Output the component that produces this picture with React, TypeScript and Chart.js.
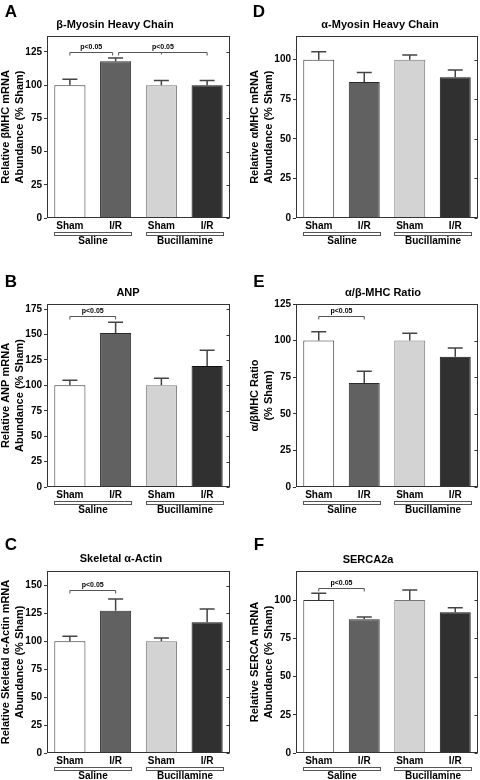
import React, { useEffect, useRef } from 'react';
import { Chart, registerables } from 'chart.js';
Chart.register(...registerables);

// ---------- data ----------
const categories = ['Sham', 'I/R', 'Sham', 'I/R'];
const groupNames = ['Saline', 'Bucillamine'];
const barColors = ['#ffffff', '#616161', '#d3d3d3', '#303030'];
const barBorders = ['#333333', '#2a2a2a', '#777777', '#111111'];
const yTickValues = [0, 25, 50, 75, 100, 125, 150, 175];

const bmhcMean = [100, 118, 100, 100];
const bmhcErr = [4.5, 2.5, 3.5, 3.5];
const amhcMean = [100, 86, 100, 89];
const amhcErr = [5, 6, 3, 4.5];
const anpMean = [100, 151.5, 100, 119];
const anpErr = [5, 10.5, 7, 15.5];
const ratioMean = [100, 71, 100, 89];
const ratioErr = [6, 8, 5, 6];
const actinMean = [100, 127.5, 100, 117];
const actinErr = [4.5, 10.5, 3, 12];
const sercaMean = [100, 87.5, 100, 92];
const sercaErr = [4.5, 1.5, 6.5, 3];

const pLabel = 'p<0.05';

const FONT = 'Arial, "Liberation Sans", Helvetica, sans-serif';

type Bracket = { a: number; b: number; v: number; da?: number; db?: number; mid?: number };

type PanelProps = {
  left: number; top: number; w: number; h: number;
  areaLeft: number; areaRight: number; areaTop: number; areaBottom: number;
  letter: string; letterX: number; letterY: number;
  title: string; titleX: number; titleY: number;
  yTitle: string[];
  yMax: number;
  mean: number[]; err: number[];
  brackets: Bracket[];
};

function Panel(p: PanelProps) {
  const ref = useRef<HTMLCanvasElement>(null);
  useEffect(() => {
    const canvas = ref.current!;
    const yAxisW = 30;
    const xAxisH = 14;
    const decor = {
      id: 'decor',
      afterDraw(chart: any) {
        const ctx = chart.ctx as CanvasRenderingContext2D;
        const a = chart.chartArea;
        const ys = chart.scales.y;
        const meta = chart.getDatasetMeta(0);
        ctx.save();
        // box
        ctx.strokeStyle = '#333';
        ctx.lineWidth = 1;
        const L = Math.round(a.left) + 0.5, T = Math.round(a.top) + 0.5;
        const R = Math.round(a.right) - 0.5, B = Math.round(a.bottom) - 0.5;
        ctx.strokeRect(L, T, R - L, B - T);
        // right inner ticks
        ys.ticks.forEach((t: any) => {
          const yy = Math.round(ys.getPixelForValue(t.value)) + 0.5;
          ctx.beginPath();
          ctx.moveTo(R - 3, yy);
          ctx.lineTo(R, yy);
          ctx.stroke();
        });
        // error bars
        ctx.strokeStyle = '#444';
        ctx.lineWidth = 1.5;
        p.mean.forEach((m, i) => {
          const bar = meta.data[i];
          const cx = bar.x;
          const y0 = ys.getPixelForValue(m);
          const y1 = ys.getPixelForValue(m + p.err[i]);
          ctx.beginPath();
          ctx.moveTo(cx, y0);
          ctx.lineTo(cx, y1);
          ctx.moveTo(cx - 7.5, y1);
          ctx.lineTo(cx + 7.5, y1);
          ctx.stroke();
        });
        // significance brackets
        ctx.strokeStyle = '#555';
        ctx.lineWidth = 1;
        ctx.fillStyle = '#000';
        ctx.font = `bold 7px ${FONT}`;
        ctx.textAlign = 'center';
        ctx.textBaseline = 'bottom';
        p.brackets.forEach((br) => {
          const x1 = meta.data[br.a].x + (br.da || 0);
          const x2 = meta.data[br.b].x + (br.db || 0);
          const yy = Math.round(ys.getPixelForValue(br.v)) + 0.5;
          ctx.beginPath();
          ctx.moveTo(x1, yy + 3);
          ctx.lineTo(x1, yy);
          ctx.lineTo(x2, yy);
          ctx.lineTo(x2, yy + 3);
          if (br.mid !== undefined) {
            const xm = meta.data[br.mid].x;
            ctx.moveTo(xm, yy);
            ctx.lineTo(xm, yy + 2);
          }
          ctx.stroke();
          ctx.fillText(pLabel, (x1 + x2) / 2, yy - 2);
        });
        // group brackets
        ctx.strokeStyle = '#555';
        ctx.font = `bold 10px ${FONT}`;
        ctx.textBaseline = 'middle';
        [[0, 1], [2, 3]].forEach((g, gi) => {
          const b0 = meta.data[g[0]], b1 = meta.data[g[1]];
          const xl = Math.round(b0.x - b0.width / 2) + 0.5;
          const xr = Math.round(b1.x + b1.width / 2) + 0.5;
          const yb = Math.round(a.bottom) + 14.5;
          ctx.strokeRect(xl, yb, xr - xl, 3);
          ctx.fillText(groupNames[gi], (xl + xr) / 2, a.bottom + 23);
        });
        // letter
        ctx.font = `bold 17px ${FONT}`;
        ctx.fillText(p.letter, p.letterX, p.letterY);
        // title
        ctx.font = `bold 11px ${FONT}`;
        ctx.fillText(p.title, p.titleX, p.titleY);
        // y title
        const cy = (a.top + a.bottom) / 2;
        const offs = p.yTitle.length === 2 ? [a.left - 41, a.left - 27] : [a.left - 27];
        p.yTitle.forEach((line, li) => {
          ctx.save();
          ctx.translate(offs[li], cy);
          ctx.rotate(-Math.PI / 2);
          ctx.fillText(line, 0, 0);
          ctx.restore();
        });
        ctx.restore();
      },
    };
    const chart = new Chart(canvas, {
      type: 'bar',
      data: {
        labels: categories,
        datasets: [{
          data: p.mean,
          backgroundColor: barColors,
          borderColor: barBorders,
          borderWidth: 1,
          barPercentage: 0.68,
          categoryPercentage: 1,
        }],
      },
      options: {
        responsive: false,
        animation: false,
        devicePixelRatio: 1,
        layout: {
          padding: {
            left: p.areaLeft - yAxisW,
            right: p.w - p.areaRight,
            top: p.areaTop,
            bottom: p.h - p.areaBottom - xAxisH,
          },
        },
        plugins: { legend: { display: false }, tooltip: { enabled: false }, title: { display: false } },
        scales: {
          x: {
            grid: { display: false, drawTicks: false },
            border: { display: false },
            ticks: { color: '#000', font: { family: FONT, size: 10, weight: 'bold' }, padding: 2, maxRotation: 0 },
            afterFit: (s: any) => { s.height = xAxisH; },
          },
          y: {
            min: 0,
            max: p.yMax,
            grid: { display: true, drawOnChartArea: false, drawTicks: true, tickLength: 3, color: '#333' },
            border: { display: false },
            ticks: { color: '#000', font: { family: FONT, size: 10, weight: 'bold' }, padding: 2, stepSize: 25 },
            afterBuildTicks: (s: any) => {
              s.ticks = yTickValues.filter((v) => v <= p.yMax).map((v) => ({ value: v }));
            },
            afterFit: (s: any) => { s.width = yAxisW; },
          },
        },
      } as any,
      plugins: [decor],
    });
    return () => chart.destroy();
  }, []);
  return (
    <canvas
      ref={ref}
      width={p.w}
      height={p.h}
      style={{ position: 'absolute', left: p.left, top: p.top, width: p.w, height: p.h }}
    />
  );
}

const AB = 'Abundance (% Sham)';

export default function App() {
  const lc = { left: 0, w: 240, areaLeft: 47, areaRight: 230 };
  const rc = { left: 240, w: 240, areaLeft: 56, areaRight: 238 };
  const r0 = { top: 0, h: 265, areaTop: 36, areaBottom: 218 };
  const r1 = { top: 265, h: 250, areaTop: 39, areaBottom: 222 };
  const r2 = { top: 515, h: 265, areaTop: 56, areaBottom: 238 };
  return (
    <div style={{ position: 'absolute', left: 0, top: 0, width: 480, height: 780, background: '#fff', overflow: 'hidden' }}>
      <Panel {...lc} {...r0} letter="A" letterX={11} letterY={12} title="β-Myosin Heavy Chain" titleX={115} titleY={25}
        yTitle={['Relative βMHC mRNA', AB]} yMax={137} mean={bmhcMean} err={bmhcErr}
        brackets={[{ a: 0, b: 1, v: 125, db: -3 }, { a: 1, b: 3, v: 125, da: 3, mid: 2 }]} />
      <Panel {...rc} {...r0} letter="D" letterX={19} letterY={12} title="α-Myosin Heavy Chain" titleX={140} titleY={25}
        yTitle={['Relative αMHC mRNA', AB]} yMax={115} mean={amhcMean} err={amhcErr} brackets={[]} />
      <Panel {...lc} {...r1} letter="B" letterX={11} letterY={17} title="ANP" titleX={128} titleY={28}
        yTitle={['Relative ANP mRNA', AB]} yMax={180} mean={anpMean} err={anpErr}
        brackets={[{ a: 0, b: 1, v: 168 }]} />
      <Panel {...rc} {...r1} letter="E" letterX={19} letterY={17} title="α/β-MHC Ratio" titleX={143} titleY={28}
        yTitle={['α/βMHC Ratio', '(% Sham)']} yMax={125} mean={ratioMean} err={ratioErr}
        brackets={[{ a: 0, b: 1, v: 116.5 }]} />
      <Panel {...lc} {...r2} letter="C" letterX={11} letterY={30} title="Skeletal α-Actin" titleX={121} titleY={44}
        yTitle={['Relative Skeletal α-Actin mRNA', AB]} yMax={163} mean={actinMean} err={actinErr}
        brackets={[{ a: 0, b: 1, v: 146 }]} />
      <Panel {...rc} {...r2} letter="F" letterX={19} letterY={30} title="SERCA2a" titleX={128} titleY={45}
        yTitle={['Relative SERCA mRNA', AB]} yMax={119} mean={sercaMean} err={sercaErr}
        brackets={[{ a: 0, b: 1, v: 108 }]} />
    </div>
  );
}
